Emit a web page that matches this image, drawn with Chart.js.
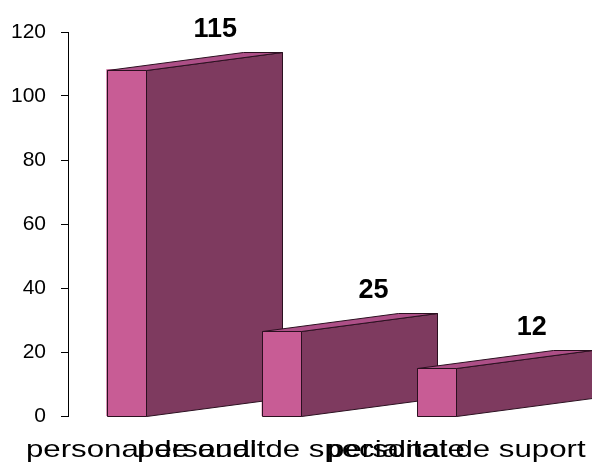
<!DOCTYPE html>
<html>
<head>
<meta charset="utf-8">
<script src="https://cdn.jsdelivr.net/npm/chart.js@4/dist/chart.umd.min.js"></script>
<style>
  html, body { margin: 0; padding: 0; background: #ffffff; }
  #wrap { width: 592px; height: 465px; }
</style>
</head>
<body>
<div id="wrap"><canvas id="graph"></canvas></div>
<script>
//Chart data
const categories = ["personal de audit", "personal de specialitate", "personal de suport"];
const values = [115, 25, 12];
const yTicks = [0, 20, 40, 60, 80, 100, 120];

//Colors for the 3d boxes
const frontColor = "#C85C95";
const topColor = "#AD4F87";
const sideColor = "#7E3A5F";
const edgeColor = "#2B1020";

//Depth of the 3d boxes, in pixels
const depthX = 136;
const depthY = -18;

//Draws the boxes, the value labels and the stretched category labels
const boxes3d = {
  id: "boxes3d",
  afterDatasetsDraw(chart) {
    const ctx = chart.ctx;
    const meta = chart.getDatasetMeta(0);
    ctx.save();
    ctx.lineWidth = 1;
    ctx.strokeStyle = edgeColor;
    ctx.lineJoin = "round";

    meta.data.forEach((bar, i) => {
      const { x, y, base, width } = bar.getProps(["x", "y", "base", "width"], true);
      const left = Math.round(x - width / 2) + 0.5;
      const right = Math.round(x + width / 2) + 0.5;
      const top = Math.round(y) + 0.5;
      const bottom = Math.round(base) + 0.5;

      //side
      ctx.beginPath();
      ctx.moveTo(right, top);
      ctx.lineTo(right + depthX, top + depthY);
      ctx.lineTo(right + depthX, bottom + depthY);
      ctx.lineTo(right, bottom);
      ctx.closePath();
      ctx.fillStyle = sideColor;
      ctx.fill();
      ctx.stroke();

      //top
      ctx.beginPath();
      ctx.moveTo(left, top);
      ctx.lineTo(left + depthX, top + depthY);
      ctx.lineTo(right + depthX, top + depthY);
      ctx.lineTo(right, top);
      ctx.closePath();
      ctx.fillStyle = topColor;
      ctx.fill();
      ctx.stroke();

      //front
      ctx.beginPath();
      ctx.rect(left, top, right - left, bottom - top);
      ctx.fillStyle = frontColor;
      ctx.fill();
      ctx.stroke();

      //value label
      ctx.fillStyle = "#000000";
      ctx.font = "bold 27px Arial, 'Liberation Sans', sans-serif";
      ctx.textAlign = "center";
      ctx.textBaseline = "middle";
      ctx.fillText(String(values[i]), x + 89 + i * 3, top + depthY - 23);
    });

    //category labels, drawn wide like the original
    const xScale = chart.scales.x;
    ctx.font = "24px Arial, 'Liberation Sans', sans-serif";
    ctx.textAlign = "center";
    ctx.textBaseline = "alphabetic";
    ctx.fillStyle = "#000000";
    categories.forEach((label, i) => {
      ctx.save();
      ctx.translate(xScale.getPixelForValue(i), 457);
      ctx.scale(1.3, 1);
      ctx.fillText(label, 0, 0);
      ctx.restore();
    });
    ctx.restore();
  },
};

new Chart(document.getElementById("graph"), {
  type: "bar",
  data: {
    labels: categories,
    datasets: [
      {
        data: values,
        yAxisID: "y2",
        base: -4.5,
        backgroundColor: frontColor,
        barThickness: 39,
      },
      //empty slot so the front face sits left of the category center
      {
        data: categories.map(() => null),
        yAxisID: "y2",
        barThickness: 39,
      },
    ],
  },
  options: {
    responsive: true,
    maintainAspectRatio: false,
    animation: false,
    events: [],
    layout: { padding: { top: 32, right: 58, bottom: 41, left: 0 } },
    plugins: {
      legend: { display: false },
      tooltip: { enabled: false },
      title: { display: false },
    },
    scales: {
      x: {
        grid: { display: false },
        border: { display: false },
        ticks: { display: false },
      },
      y: {
        min: 0,
        max: 120,
        afterBuildTicks: scale => {
          scale.ticks = yTicks.map(value => ({ value }));
        },
        afterFit: scale => {
          scale.width = 68;
        },
        ticks: {
          padding: 15,
          color: "#000000",
          font: { family: "Arial, 'Liberation Sans', sans-serif", size: 21 },
        },
        grid: {
          drawOnChartArea: false,
          drawTicks: true,
          tickLength: 7,
          color: "#000000",
        },
        border: { display: true, color: "#000000", width: 1 },
      },
      y2: {
        display: false,
        min: -4.5,
        max: 128,
      },
    },
  },
  plugins: [boxes3d],
});
</script>
</body>
</html>
